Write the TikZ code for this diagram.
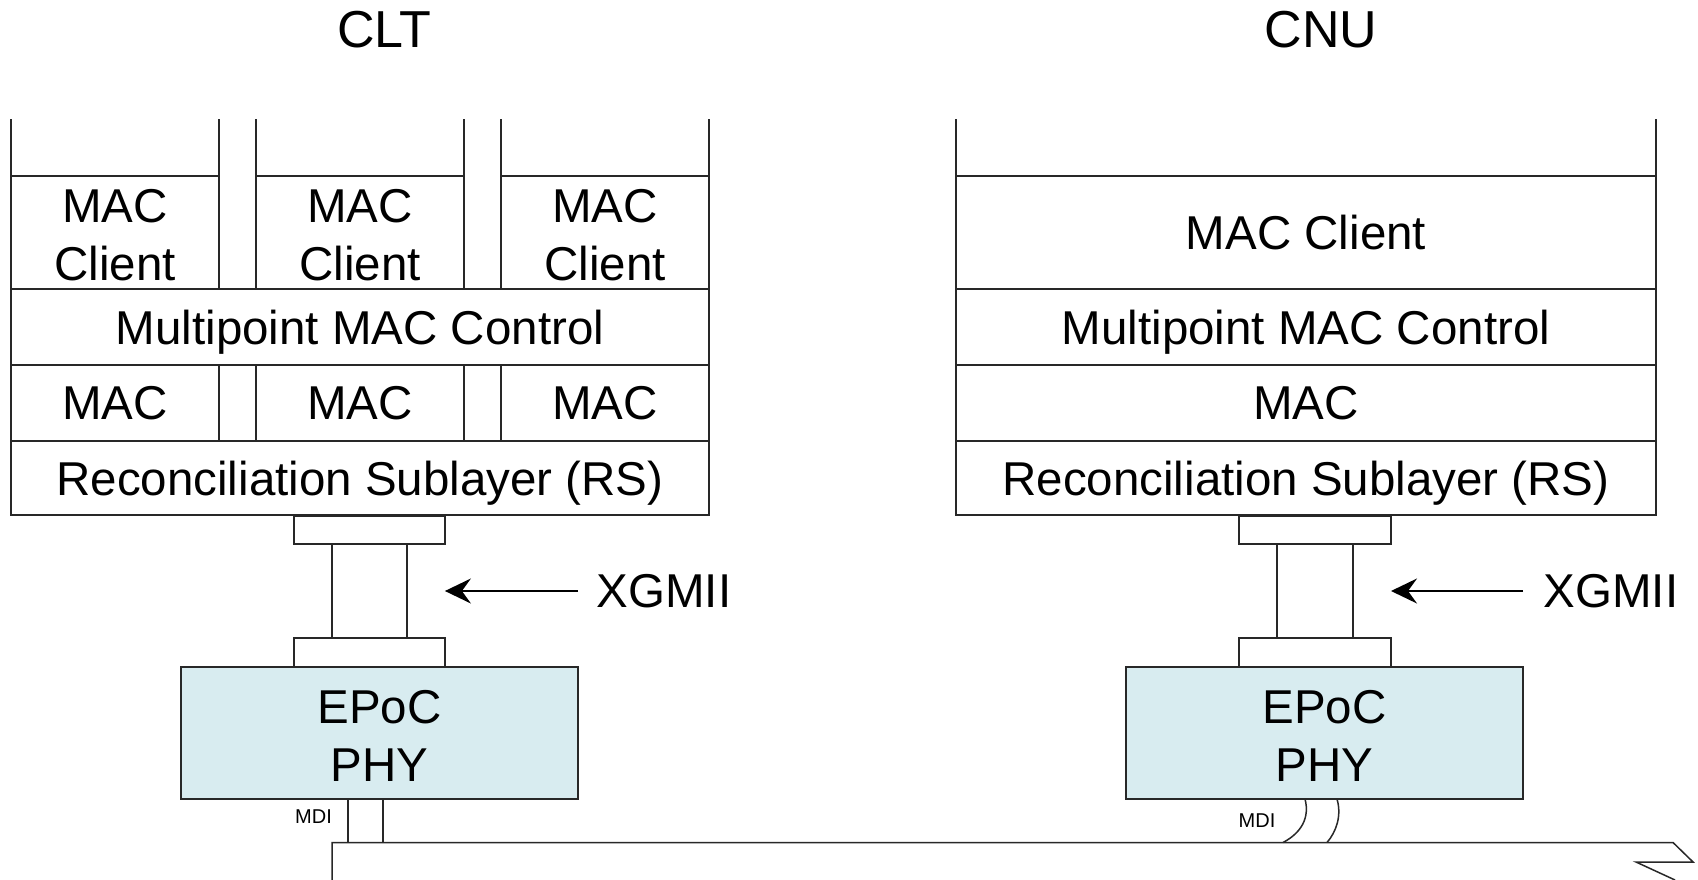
\documentclass[tikz,border=0pt]{standalone}
\usepackage{fontspec}
\setmainfont{Liberation Sans}
\usetikzlibrary{arrows.meta}
\definecolor{phyfill}{RGB}{216,236,240}
\definecolor{edge}{RGB}{40,40,40}
\newcommand\layerfont{\fontsize{47.5}{58}\selectfont}
\newcommand\titlefont{\fontsize{52}{60}\selectfont}
\newcommand\smallfont{\fontsize{20}{24}\selectfont}
\begin{document}
\begin{tikzpicture}[x=1pt,y=-1pt,
  layer/.style={draw=edge, line width=1.5pt, inner sep=0pt, outer sep=0pt, font=\layerfont, align=center, text depth=0pt},
  boxtext/.style={font=\layerfont, align=center, inner sep=0pt},
  plate/.style={draw=edge, line width=1.5pt, inner sep=0pt, outer sep=0pt, fill=white},
  phy/.style={draw=edge, line width=1.5pt, inner sep=0pt, outer sep=0pt, fill=phyfill},
  wire/.style={draw=edge, line width=1.5pt},
  pointer/.style={draw=black, line width=2pt, -{Stealth[length=26pt,width=25pt,inset=9pt]}},
  title/.style={font=\titlefont, anchor=base, inner sep=0pt},
  xlabel/.style={font=\layerfont, inner sep=0pt},
  mdi/.style={font=\smallfont, inner sep=0pt}]
\useasboundingbox (0,0) rectangle (1698,880);
\fill[white] (0,0) rectangle (1698,880);

% titles
\node[title] (clt) at (384.5,48) {CLT};
\node[title] (cnu) at (1321,48) {CNU};

% left stack (CLT)
\node[layer, minimum width=208, minimum height=113] (lc1) at (115,232.5) {};
\node[layer, minimum width=208, minimum height=113] (lc2) at (360,232.5) {};
\node[layer, minimum width=208, minimum height=113] (lc3) at (605,232.5) {};
\foreach \n in {lc1,lc2,lc3}{
  \node[boxtext] (\n t) at ([yshift=-3pt]\n.center) {MAC\\Client};
  \draw[wire] (\n.north west) -- +(0,-57);
  \draw[wire] (\n.north east) -- +(0,-57);
}
\node[layer, minimum width=698, minimum height=76] (lmpc) at (360,327) {Multipoint MAC Control};
\node[layer, minimum width=208, minimum height=76] (lm1) at (115,403) {MAC};
\node[layer, minimum width=208, minimum height=76] (lm2) at (360,403) {MAC};
\node[layer, minimum width=208, minimum height=76] (lm3) at (605,403) {MAC};
\node[layer, minimum width=698, minimum height=74] (lrs) at (360,478) {Reconciliation Sublayer (RS)};

% right stack (CNU)
\node[layer, minimum width=700, minimum height=113] (rc) at (1306,232.5) {MAC Client};
\node[layer, minimum width=700, minimum height=76] (rmpc) at (1306,327) {Multipoint MAC Control};
\node[layer, minimum width=700, minimum height=76] (rm) at (1306,403) {MAC};
\node[layer, minimum width=700, minimum height=74] (rrs) at (1306,478) {Reconciliation Sublayer (RS)};
\draw[wire] (rc.north west) -- +(0,-57);
\draw[wire] (rc.north east) -- +(0,-57);

% left XGMII + PHY
\node[plate, minimum width=151, minimum height=28] (ltop) at (369.4,530) {};
\node[plate, minimum width=75, minimum height=94] (lcol) at (369.5,591) {};
\node[plate, minimum width=151, minimum height=29] (lbot) at (369.4,652.5) {};
\node[phy, minimum width=397, minimum height=132] (lphy) at (379.5,733) {};
\node[boxtext] (lphyt) at ([yshift=-3pt]lphy.center) {EPoC\\PHY};
\draw[pointer] (lphy.east |- lcol.center) -- (ltop.east |- lcol.center);
\node[xlabel] (lx) at (664,591) {XGMII};

% right XGMII + PHY
\node[plate, minimum width=152, minimum height=28] (rtop) at (1315,530) {};
\node[plate, minimum width=76, minimum height=94] (rcol) at (1315,591) {};
\node[plate, minimum width=152, minimum height=29] (rbot) at (1315,652.5) {};
\node[phy, minimum width=397, minimum height=132] (rphy) at (1324.5,733) {};
\node[boxtext] (rphyt) at ([yshift=-3pt]rphy.center) {EPoC\\PHY};
\draw[pointer] (rphy.east |- rcol.center) -- (rtop.east |- rcol.center);
\node[xlabel] (rx) at (1611,591) {XGMII};

% cable
\coordinate (c0) at (332,880);
\coordinate (c1) at (332,842.5);
\coordinate (c2) at (1673,842.5);
\coordinate (c3) at (1693,862);
\coordinate (c4) at (1636,862);
\coordinate (c5) at (1675,880);
\draw[wire, line join=miter] (c0) -- (c1) -- (c2) -- (c3) -- (c4) -- (c5);

% left MDI
\coordinate (lm1a) at (348,842.5);
\coordinate (lm2a) at (383,842.5);
\draw[wire] (lphy.south -| lm1a) -- (lm1a);
\draw[wire] (lphy.south -| lm2a) -- (lm2a);
\node[mdi] (lmdi) at (313.5,817) {MDI};

% right MDI
\coordinate (rm1a) at (1283,842.5);
\coordinate (rm2a) at (1327,842.5);
\coordinate (rm1b) at (1305,799);
\coordinate (rm2b) at (1337,799);
\draw[wire] (rm1b) .. controls (1310,818) and (1301,833) .. (rm1a);
\draw[wire] (rm2b) .. controls (1342,816) and (1336,832) .. (rm2a);
\node[mdi] (rmdi) at (1257,821) {MDI};
\end{tikzpicture}
\end{document}
